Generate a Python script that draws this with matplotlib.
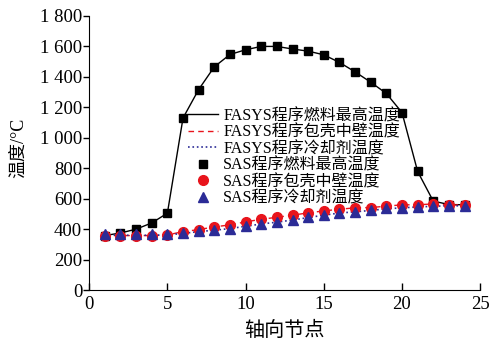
import numpy as np
import matplotlib
matplotlib.use("Agg")
import matplotlib.pyplot as plt

plt.rcParams['font.family'] = ['Liberation Serif', 'Noto Sans CJK SC', 'DejaVu Sans']
plt.rcParams['axes.unicode_minus'] = False

# axial node index
nodes = np.arange(1, 25)

# FASYS results (lines)
fasys_fuel = [358, 375, 400, 441, 505, 1130, 1317, 1466, 1547, 1578, 1600, 1600,
              1583, 1569, 1545, 1495, 1433, 1365, 1291, 1166, 779, 584, 562, 560]
fasys_clad = [358, 358, 358, 358, 362, 384, 397, 415, 428, 448, 465, 478,
              492, 507, 520, 531, 540, 542, 551, 560, 560, 566, 558, 560]
fasys_cool = [360, 360, 360, 360, 362, 372, 384, 393, 404, 419, 434, 446,
              460, 476, 492, 506, 514, 523, 534, 540, 546, 550, 554, 553]

# SAS results (markers)
sas_fuel = [358, 375, 400, 441, 505, 1130, 1317, 1466, 1547, 1578, 1600, 1600,
            1583, 1569, 1545, 1495, 1433, 1365, 1291, 1166, 779, 584, 562, 560]
sas_clad = [358, 358, 358, 358, 360, 384, 397, 415, 428, 448, 465, 478,
            492, 507, 520, 531, 540, 542, 551, 560, 560, 566, 558, 560]
sas_cool = [369, 369, 369, 369, 369, 375, 386, 393, 404, 419, 437, 448,
            461, 478, 494, 509, 516, 525, 536, 540, 547, 551, 555, 553]

labels = ["FASYS程序燃料最高温度", "FASYS程序包壳中壁温度", "FASYS程序冷却剂温度",
          "SAS程序燃料最高温度", "SAS程序包壳中壁温度", "SAS程序冷却剂温度"]

red = "#e8141c"
blue = "#2b2b96"

fig = plt.figure(figsize=(4.9, 3.47), dpi=100)
ax = fig.add_axes([0.182, 0.164, 0.798, 0.79])

ax.plot(nodes, fasys_fuel, "-", color="black", lw=1.0, label=labels[0])
ax.plot(nodes, fasys_clad, "--", color=red, lw=1.0, dashes=(4, 3), label=labels[1])
ax.plot(nodes, fasys_cool, ":", color=blue, lw=1.2, label=labels[2])
ax.plot(nodes, sas_fuel, "s", color="black", ms=5.5, ls="none", label=labels[3])
ax.plot(nodes, sas_clad, "o", color=red, ms=7, ls="none", label=labels[4])
ax.plot(nodes, sas_cool, "^", color=blue, ms=7, ls="none", label=labels[5])

ax.set_xlim(0, 25)
ax.set_ylim(0, 1800)
ax.set_xticks([0, 5, 10, 15, 20, 25])
ax.set_yticks(range(0, 1801, 200))
ax.set_yticklabels(["0", "200", "400", "600", "800", "1 000", "1 200", "1 400", "1 600", "1 800"])
ax.spines["top"].set_visible(False)
ax.spines["right"].set_visible(False)
ax.tick_params(axis="x", direction="in", length=5, width=1, labelsize=13.5, pad=4)
ax.tick_params(axis="y", direction="out", length=4, width=1, labelsize=13.5, pad=1)
ax.set_xlabel("轴向节点", fontsize=14.5)
ax.set_ylabel("温度/°C", fontsize=13)
ax.xaxis.set_label_coords(0.5, -0.115)
ax.yaxis.set_label_coords(-0.16, 0.52)

ax.legend(loc="upper left", bbox_to_anchor=(0.253, 0.664), frameon=False,
          fontsize=11.5, labelspacing=0.03, handlelength=1.9, handletextpad=0.3,
          borderpad=0, borderaxespad=0)

fig.savefig("out.png", dpi=100)
